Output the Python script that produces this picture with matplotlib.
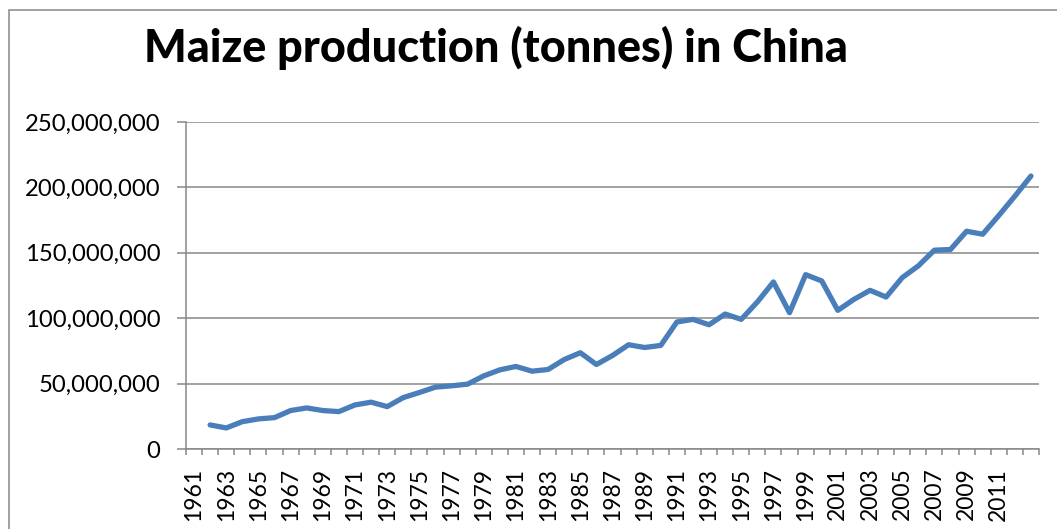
import numpy as np
import matplotlib
matplotlib.use("Agg")
from matplotlib import pyplot as plt
from matplotlib.ticker import FuncFormatter
from matplotlib.patches import Rectangle

plt.rcParams['font.family'] = ['Lato', 'DejaVu Sans']

years = list(range(1961, 2014))
# tonnes, 1961 left empty as in the original sheet
production = [np.nan,
              18.4e6, 16.1e6, 20.9e6, 23.0e6, 24.0e6, 29.4e6, 31.4e6, 29.4e6, 28.6e6,
              33.7e6, 35.8e6, 32.4e6, 39.3e6, 43.2e6, 47.3e6, 48.3e6, 49.6e6, 55.9e6,
              60.5e6, 63.1e6, 59.5e6, 60.8e6, 68.4e6, 73.6e6, 64.6e6, 71.5e6, 79.7e6,
              77.6e6, 79.2e6, 97.1e6, 99.1e6, 95.0e6, 103.2e6, 99.1e6, 112.4e6,
              127.7e6, 104.2e6, 133.3e6, 128.5e6, 106.0e6, 114.4e6, 121.3e6, 116.2e6,
              131.0e6, 140.0e6, 152.0e6, 152.5e6, 166.5e6, 164.2e6, 178.5e6, 193.3e6,
              208.7e6]
# the sheet only labels every other year up to 2011
year_labels = [str(y) for y in range(1961, 2012, 2)]
y_ticks = [0, 50e6, 100e6, 150e6, 200e6, 250e6]

grey = '#878787'

fig = plt.figure(figsize=(10.57, 5.29), dpi=100)
ax = fig.add_axes([186/1057, 1-449/529, (1039-186)/1057, (449-122)/529])

x = np.arange(len(years))
ax.plot(x, production, color='#4A7EBB', lw=3.8, solid_capstyle='round', solid_joinstyle='round')

ax.set_xlim(-0.5, len(years) - 0.5)
ax.set_ylim(0, 250e6)
ax.set_yticks(y_ticks)
ax.yaxis.set_major_formatter(FuncFormatter(lambda v, p: f'{v:,.0f}'))
ax.grid(axis='y', color=grey, lw=1.1)
ax.set_axisbelow(True)

ax.set_xticks(x[:len(year_labels)*2:2])
ax.set_xticklabels(year_labels, rotation=90)
ax.set_xticks(np.arange(-0.5, len(years)), minor=True)
ax.tick_params(axis='x', which='major', length=0, pad=13.5, labelsize=16.5)
ax.tick_params(axis='x', which='minor', length=4.5, width=1.1, color=grey, direction='out')
ax.tick_params(axis='y', length=6.5, width=1.1, color=grey, pad=12, labelsize=17.2)

for s in ['top', 'right']:
    ax.spines[s].set_visible(False)
for s in ['left', 'bottom']:
    ax.spines[s].set_color(grey)
    ax.spines[s].set_linewidth(1.1)

fig.text(496/1057, 1-62/529, 'Maize production (tonnes) in China',
         ha='center', va='baseline', fontsize=32.4, fontweight='black')

# chart area border
fig.patches.append(Rectangle((9/1057, -0.1), 1.2, 1.1 - 10/529,
                             transform=fig.transFigure, fill=False,
                             edgecolor=grey, lw=1.1))

fig.savefig('out.png', dpi=100)
